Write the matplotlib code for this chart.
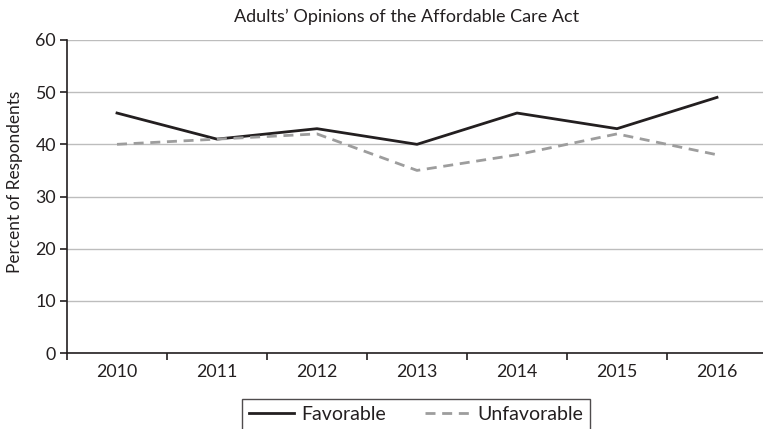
import matplotlib
matplotlib.use("Agg")
import matplotlib.pyplot as plt

years = ["2010", "2011", "2012", "2013", "2014", "2015", "2016"]
favorable = [46, 41, 43, 40, 46, 43, 49]
unfavorable = [40, 41, 42, 35, 38, 42, 38]
y_ticks = [0, 10, 20, 30, 40, 50, 60]

plt.rcParams["font.family"] = ["Lato", "DejaVu Sans"]

fig = plt.figure(figsize=(7.63, 4.29), dpi=100)
ax = fig.add_axes([67 / 763, 1 - 353 / 429, 700 / 763, 313 / 429])

x = list(range(len(years)))
ax.plot(x, favorable, color="#231f20", lw=2.0, label="Favorable", zorder=3)
ax.plot(x, unfavorable, color="#9d9d9d", lw=2.0, ls=(0, (3.6, 2.4)),
        label="Unfavorable", zorder=3)

ax.set_xlim(-0.5, len(years) - 0.5)
ax.set_ylim(0, 60)
ax.set_yticks(y_ticks)
ax.yaxis.grid(True, color="#bdbdbd", lw=1.0)
ax.set_axisbelow(True)

ax.set_xticks([i - 0.5 for i in range(len(years) + 1)])
ax.set_xticklabels([])
ax.set_xticks(x, minor=True)
ax.set_xticklabels(years, minor=True)
ax.tick_params(axis="x", which="minor", length=0, pad=8, labelsize=12.8,
               colors="#231f20")
ax.tick_params(axis="x", which="major", length=5, width=1.2, color="#231f20",
               direction="out")
ax.tick_params(axis="y", length=5, width=1.2, color="#231f20", pad=3,
               labelsize=12.8, labelcolor="#231f20")

for s in ("top", "right"):
    ax.spines[s].set_visible(False)
for s in ("left", "bottom"):
    ax.spines[s].set_color("#231f20")
    ax.spines[s].set_linewidth(1.2)

fig.text(15 / 763, 1 - 182 / 429, "Percent of Respondents", rotation=90,
         ha="center", va="center", fontsize=12.4, color="#231f20")
fig.text(407 / 763, 1 - 17 / 429, "Adults\u2019 Opinions of the Affordable Care Act",
         ha="center", va="center", fontsize=13, color="#231f20")

leg = fig.legend(loc="upper left", bbox_to_anchor=(242 / 763, 1 - 399 / 429),
                 ncol=2, frameon=True, fancybox=False, fontsize=14,
                 handlelength=2.3, handletextpad=0.4, columnspacing=2.0,
                 borderpad=0.35, borderaxespad=0, edgecolor="#231f20")
leg.get_frame().set_linewidth(1.0)
for t in leg.get_texts():
    t.set_color("#231f20")

fig.savefig("out.png", dpi=100)
